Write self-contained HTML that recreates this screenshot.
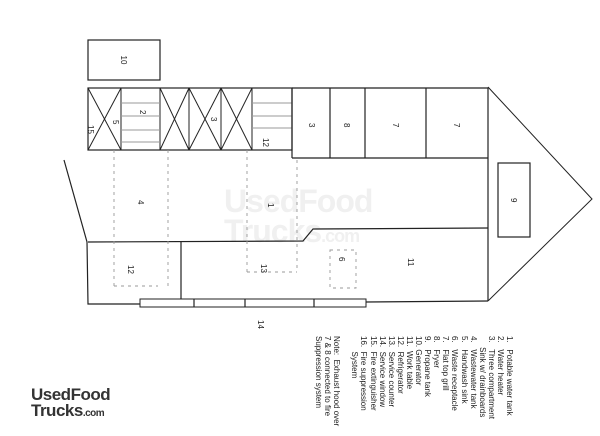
<!DOCTYPE html>
<html><head><style>
body{margin:0;width:600px;height:436px;background:#fff;overflow:hidden;position:relative;font-family:"Liberation Sans",sans-serif}
svg{position:absolute;left:0;top:0}
.leg{position:absolute;left:514px;top:336px;transform-origin:0 0;transform:rotate(90deg);font-size:8px;line-height:9.1px;color:#222;white-space:pre}
.wm{position:absolute;left:224px;top:186px;font-size:32px;font-weight:bold;color:#f0f0f0;line-height:30px;letter-spacing:-1px}
.logo{position:absolute;left:31px;top:387px;font-size:17px;font-weight:bold;color:#333;line-height:16px;letter-spacing:-0.5px}
</style></head><body>
<div class="wm">UsedFood<br>Trucks<span style="font-size:18px">.com</span></div>
<svg width="600" height="436" fill="none" stroke="#222" stroke-width="1.2">
<rect x="88" y="40" width="72" height="40"/>
<rect x="88" y="88" width="204" height="62"/>
<g stroke-width="1">
<line x1="88" y1="88" x2="121" y2="150"/><line x1="121" y1="88" x2="88" y2="150"/>
<line x1="160" y1="88" x2="189" y2="150"/><line x1="189" y1="88" x2="160" y2="150"/>
<line x1="189" y1="88" x2="221" y2="150"/><line x1="221" y1="88" x2="189" y2="150"/>
<line x1="221" y1="88" x2="252" y2="150"/><line x1="252" y1="88" x2="221" y2="150"/>
<line x1="121" y1="88" x2="121" y2="150"/><line x1="160" y1="88" x2="160" y2="150"/>
<line x1="189" y1="88" x2="189" y2="150"/><line x1="221" y1="88" x2="221" y2="150"/><line x1="252" y1="88" x2="252" y2="150"/>
<line x1="121" y1="103" x2="160" y2="103" stroke="#999"/><line x1="121" y1="116" x2="160" y2="116" stroke="#999"/><line x1="121" y1="130" x2="160" y2="130" stroke="#999"/><line x1="121" y1="142" x2="160" y2="142" stroke="#999"/>
<line x1="252" y1="103" x2="292" y2="103" stroke="#999"/><line x1="252" y1="116" x2="292" y2="116" stroke="#999"/><line x1="252" y1="128" x2="292" y2="128" stroke="#999"/>
</g>
<polyline points="292,88 488,88 488,301"/>
<line x1="292" y1="158" x2="488" y2="158"/>
<line x1="292" y1="88" x2="292" y2="158"/><line x1="330" y1="88" x2="330" y2="158"/><line x1="365" y1="88" x2="365" y2="158"/><line x1="426" y1="88" x2="426" y2="158"/>
<polyline points="488,87 592,199 488,301" stroke-width="1"/>
<rect x="498" y="163" width="32" height="74"/>
<polyline points="488,228 313,229 303,241 88,242"/>
<polyline points="64,160 87,242 88,304 140,304"/>
<line x1="181" y1="242" x2="181" y2="299"/>
<rect x="140" y="299" width="226" height="8" stroke-width="1"/>
<line x1="194" y1="299" x2="194" y2="307"/><line x1="245" y1="299" x2="245" y2="307"/><line x1="314" y1="299" x2="314" y2="307"/>
<line x1="366" y1="302" x2="488" y2="301"/>
<g stroke="#999" stroke-dasharray="3,4" stroke-width="0.9">
<line x1="114" y1="150" x2="114" y2="288"/><line x1="168" y1="150" x2="168" y2="288"/>
<line x1="247" y1="150" x2="247" y2="275"/><line x1="297" y1="160" x2="297" y2="272"/>
<line x1="247" y1="272" x2="297" y2="272"/><line x1="114" y1="286" x2="158" y2="286"/>
<rect x="330" y="250" width="26" height="38"/>
</g>
</svg>
<svg width="600" height="436" font-size="8" fill="#222" font-family="Liberation Sans">
<text transform="translate(121,60) rotate(90)" text-anchor="middle">10</text>
<text transform="translate(140,110) rotate(90)">2</text>
<text transform="translate(113,120) rotate(90)">5</text>
<text transform="translate(88,125) rotate(90)">15</text>
<text transform="translate(211,117) rotate(90)">3</text>
<text transform="translate(263,138) rotate(90)">12</text>
<text transform="translate(309,123) rotate(90)">3</text>
<text transform="translate(344,123) rotate(90)">8</text>
<text transform="translate(393,123) rotate(90)">7</text>
<text transform="translate(454,123) rotate(90)">7</text>
<text transform="translate(511,198) rotate(90)">9</text>
<text transform="translate(138,200) rotate(90)">4</text>
<text transform="translate(268,203) rotate(90)">1</text>
<text transform="translate(128,265) rotate(90)">12</text>
<text transform="translate(261,264) rotate(90)">13</text>
<text transform="translate(339,257) rotate(90)">6</text>
<text transform="translate(408,258) rotate(90)">11</text>
<text transform="translate(258,320) rotate(90)">14</text>
</svg>
<div class="leg">1.   Potable water tank
2.   Water heater
3.   Three compartment
     Sink w/ drainboards
4.   Wastewater tank
5.   Handwash sink
6.   Waste receptacle
7.   Flat top grill
8.   Fryer
9.   Propane tank
10. Generator
11.  Work table
12.  Refrigerator
13.  Service counter
14.  Service window
15.  Fire extinguisher
16.  Fire suppression
       System

Note:  Exhaust hood over
7 & 8 connected to fire
Suppression system</div>
<div class="logo">UsedFood<br>Trucks<span style="font-size:10px">.com</span></div>
</body></html>
